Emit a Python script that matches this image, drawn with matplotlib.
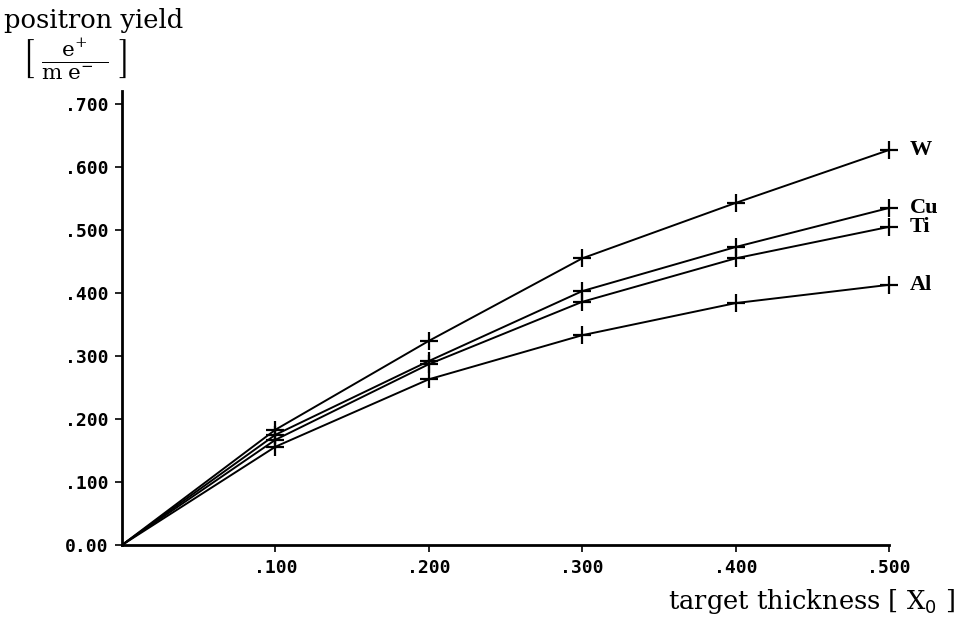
import matplotlib.pyplot as plt
from matplotlib.ticker import FixedLocator

# target thickness in radiation lengths
thickness = [0.0, 0.1, 0.2, 0.3, 0.4, 0.5]

# positron yield per incident electron
yield_w = [0.0, 0.183, 0.324, 0.455, 0.543, 0.627]
yield_cu = [0.0, 0.175, 0.292, 0.403, 0.473, 0.535]
yield_ti = [0.0, 0.167, 0.287, 0.386, 0.455, 0.505]
yield_al = [0.0, 0.156, 0.263, 0.333, 0.384, 0.413]

materials = ["W", "Cu", "Ti", "Al"]
series = [yield_w, yield_cu, yield_ti, yield_al]

x_ticks = [0.1, 0.2, 0.3, 0.4, 0.5]
x_tick_labels = [".100", ".200", ".300", ".400", ".500"]
y_ticks = [0.0, 0.1, 0.2, 0.3, 0.4, 0.5, 0.6, 0.7]
y_tick_labels = ["0.00", ".100", ".200", ".300", ".400", ".500", ".600", ".700"]

fig = plt.figure(figsize=(9.57, 6.21), dpi=100)
ax = fig.add_axes([0.1275, 0.1224, 0.8015, 0.7304])

for name, vals in zip(materials, series):
    # no marker at the origin, the curves just start there
    ax.plot(thickness, vals, color="black", lw=1.4)
    ax.plot(thickness[1:], vals[1:], ls="none", marker="+", ms=13, mew=1.6,
            color="black", clip_on=False)
    ax.annotate(name, (thickness[-1], vals[-1]), xytext=(15, 0), textcoords="offset points",
                va="center", ha="left", fontsize=16, fontweight="bold", family="Liberation Serif")

ax.set_xlim(0, 0.5)
ax.set_ylim(0, 0.72)
ax.spines["top"].set_visible(False)
ax.spines["right"].set_visible(False)
ax.spines["left"].set_linewidth(2)
ax.spines["bottom"].set_linewidth(2)

ax.xaxis.set_major_locator(FixedLocator(x_ticks))
ax.set_xticklabels(x_tick_labels, family="DejaVu Sans Mono", fontweight="bold", fontsize=13)
ax.yaxis.set_major_locator(FixedLocator(y_ticks))
ax.set_yticklabels(y_tick_labels, family="DejaVu Sans Mono", fontweight="bold", fontsize=13)
ax.tick_params(direction="out", length=5, width=1.2, pad=5)

fig.text(0.004, 0.967, "positron yield", family="DejaVu Serif", fontsize=18.5, va="center")
fig.text(0.022, 0.905, r"$\left[\;\frac{\ \mathrm{e}^{+}\ }{\mathrm{m\;e}^{-}\ \ }\;\right]$",
         fontsize=22, va="center", math_fontfamily="dejavuserif")
fig.text(0.998, 0.032, r"target thickness [ X$_0$ ]", family="DejaVu Serif", fontsize=18.5,
         ha="right", va="center")

fig.savefig("out.png", dpi=100)
